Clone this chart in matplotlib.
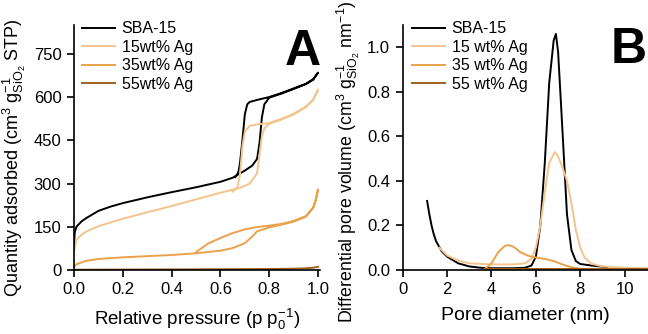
import matplotlib
matplotlib.use("Agg")
import matplotlib.pyplot as plt

plt.rcParams['font.family'] = ['Liberation Sans', 'DejaVu Sans']
plt.rcParams['mathtext.fontset'] = 'custom'
plt.rcParams['mathtext.rm'] = 'Liberation Sans'
plt.rcParams['mathtext.it'] = 'Liberation Sans'

colors = ["#000000", "#f3c48e", "#e9a24c", "#a0621e"]
labels_a = ["SBA-15", "15wt% Ag", "35wt% Ag", "55wt% Ag"]
labels_b = ["SBA-15", "15 wt% Ag", "35 wt% Ag", "55 wt% Ag"]

# ---- isotherms (A): adsorption then desorption branch
sba_p = [0.0, 0.003, 0.01, 0.03, 0.05, 0.1, 0.15, 0.2, 0.3, 0.4, 0.5, 0.6, 0.65, 0.7, 0.73,
         0.75, 0.76, 0.77, 0.78, 0.8, 0.85, 0.9, 0.95, 0.98, 1.0,
         0.98, 0.95, 0.9, 0.85, 0.8, 0.75, 0.72, 0.71, 0.70, 0.69, 0.68, 0.675, 0.67, 0.66]
sba_q = [85, 130, 150, 168, 180, 205, 220, 232, 252, 270, 287, 306, 320, 345, 362,
         385, 440, 530, 575, 598, 612, 628, 645, 660, 685,
         662, 646, 630, 614, 600, 590, 583, 575, 540, 450, 370, 345, 334, 322]
ag15_p = [0.0, 0.01, 0.03, 0.05, 0.1, 0.2, 0.3, 0.4, 0.5, 0.6, 0.68, 0.72, 0.75, 0.76, 0.77,
          0.78, 0.8, 0.85, 0.9, 0.95, 0.98, 1.0,
          0.98, 0.95, 0.9, 0.85, 0.8, 0.75, 0.72, 0.70, 0.69, 0.68, 0.67, 0.65]
ag15_q = [60, 104, 122, 133, 152, 178, 200, 222, 245, 268, 285, 300, 335, 400, 465,
          492, 507, 522, 540, 565, 590, 625,
          592, 567, 542, 524, 510, 505, 500, 480, 430, 330, 288, 272]
ag35_p = [0.0, 0.01, 0.05, 0.1, 0.2, 0.3, 0.4, 0.5, 0.6, 0.65, 0.7, 0.73, 0.75, 0.8, 0.85,
          0.9, 0.95, 0.98, 0.99, 1.0,
          0.99, 0.98, 0.95, 0.9, 0.85, 0.8, 0.75, 0.7, 0.65, 0.6, 0.55, 0.52, 0.5]
ag35_q = [10, 20, 32, 38, 44, 48, 52, 58, 67, 76, 93, 116, 134, 148, 157,
          168, 185, 215, 240, 280,
          242, 217, 187, 170, 160, 154, 149, 141, 128, 111, 92, 74, 62]
ag55_p = [0.0, 0.2, 0.4, 0.6, 0.8, 0.9, 0.95, 0.98, 1.0]
ag55_q = [1, 1.5, 2, 2.5, 3.5, 4.5, 6, 8, 11]

# ---- pore size distributions (B)
sba_d = [1.1, 1.2, 1.3, 1.4, 1.5, 1.75, 2.0, 2.5, 3.0, 3.5, 4.0, 5.0, 5.5, 5.8, 6.0, 6.2, 6.4,
         6.6, 6.8, 6.9, 7.0, 7.2, 7.4, 7.6, 7.8, 8.0, 8.5, 9.0, 9.2]
sba_v = [0.31, 0.25, 0.2, 0.16, 0.13, 0.085, 0.06, 0.03, 0.016, 0.01, 0.008, 0.008, 0.01, 0.02,
         0.06, 0.2, 0.48, 0.84, 1.03, 1.06, 0.98, 0.62, 0.25, 0.09, 0.04, 0.027, 0.02, 0.015, 0.012]
ag15_d = [1.65, 2.0, 2.5, 3.0, 4.0, 5.0, 5.5, 5.8, 6.0, 6.2, 6.4, 6.6, 6.85, 7.0, 7.2, 7.4,
          7.6, 7.8, 8.0, 8.2, 8.5, 9.0, 10.0, 11.0]
ag15_v = [0.1, 0.065, 0.042, 0.03, 0.025, 0.025, 0.03, 0.05, 0.1, 0.2, 0.35, 0.48, 0.53, 0.51,
          0.46, 0.4, 0.3, 0.18, 0.1, 0.055, 0.028, 0.016, 0.01, 0.008]
ag35_d = [3.7, 4.0, 4.3, 4.6, 4.75, 5.0, 5.3, 5.7, 6.0, 6.5, 6.8, 7.2, 7.6, 8.0, 8.5, 9.5, 11.0]
ag35_v = [0.005, 0.03, 0.08, 0.108, 0.112, 0.104, 0.08, 0.062, 0.056, 0.048, 0.04, 0.025,
          0.012, 0.006, 0.003, 0.002, 0.002]
ag55_d = [3.7, 5.0, 7.0, 9.0, 11.0]
ag55_v = [0.003, 0.003, 0.003, 0.003, 0.003]

fig = plt.figure(figsize=(6.48, 3.34), dpi=100)
axA = fig.add_axes([74 / 648, 1 - 270 / 334, 246 / 648, 245 / 334])
axB = fig.add_axes([402.7 / 648, 1 - 270 / 334, 245.3 / 648, 245 / 334])

for p, q, c, lab in zip([sba_p, ag15_p, ag35_p, ag55_p], [sba_q, ag15_q, ag35_q, ag55_q], colors, labels_a):
    axA.plot(p, q, color=c, lw=1.4, label=lab)
for d, v, c, lab in zip([sba_d, ag15_d, ag35_d, ag55_d], [sba_v, ag15_v, ag35_v, ag55_v], colors, labels_b):
    axB.plot(d, v, color=c, lw=1.4, label=lab)

axA.set_xlim(0, 1.008)
axA.set_ylim(0, 850)
axA.set_xticks([0, 0.2, 0.4, 0.6, 0.8, 1.0])
axA.set_xticklabels(["0.0", "0.2", "0.4", "0.6", "0.8", "1.0"])
axA.set_yticks([0, 150, 300, 450, 600, 750])
axA.set_xlabel(r"Relative pressure (p p$_0^{-1}$)", fontsize=13.5, labelpad=7)
axA.set_ylabel(r"Quantity adsorbed (cm$^3$ g$_{\mathrm{SiO_2}}^{-1}$ STP)", fontsize=13, labelpad=4)
axA.yaxis.label.set_y(0.46)

axB.set_xlim(0, 11.05)
axB.set_ylim(0, 1.1)
axB.set_xticks([0, 2, 4, 6, 8, 10])
axB.set_yticks([0, 0.2, 0.4, 0.6, 0.8, 1.0])
axB.set_yticklabels(["0.0", "0.2", "0.4", "0.6", "0.8", "1.0"])
axB.set_xlabel("Pore diameter (nm)", fontsize=14, labelpad=7)
axB.set_ylabel(r"Differential pore volume (cm$^3$ g$_{\mathrm{SiO_2}}^{-1}$ nm$^{-1}$)", fontsize=12.8, labelpad=4)
axB.yaxis.label.set_y(0.44)

for ax, xa in ((axA, 0.031), (axB, 0.037)):
    for s in ("top", "right"):
        ax.spines[s].set_visible(False)
    ax.spines["left"].set_linewidth(1.2)
    ax.spines["bottom"].set_linewidth(1.2)
    ax.tick_params(direction="out", length=5, width=1.2, labelsize=12, pad=4)
    ax.legend(loc="upper left", bbox_to_anchor=(xa, 1.015), frameon=False, fontsize=11.5,
              handlelength=2.1, handletextpad=0.4, labelspacing=0.22, borderaxespad=0,
              borderpad=0)

fig.text(321 / 648, 1 - 65 / 334, "A", fontsize=36, fontweight="bold", ha="right", va="baseline")
fig.text(647 / 648, 1 - 63 / 334, "B", fontsize=36, fontweight="bold", ha="right", va="baseline")

fig.savefig("out.png", dpi=100)
